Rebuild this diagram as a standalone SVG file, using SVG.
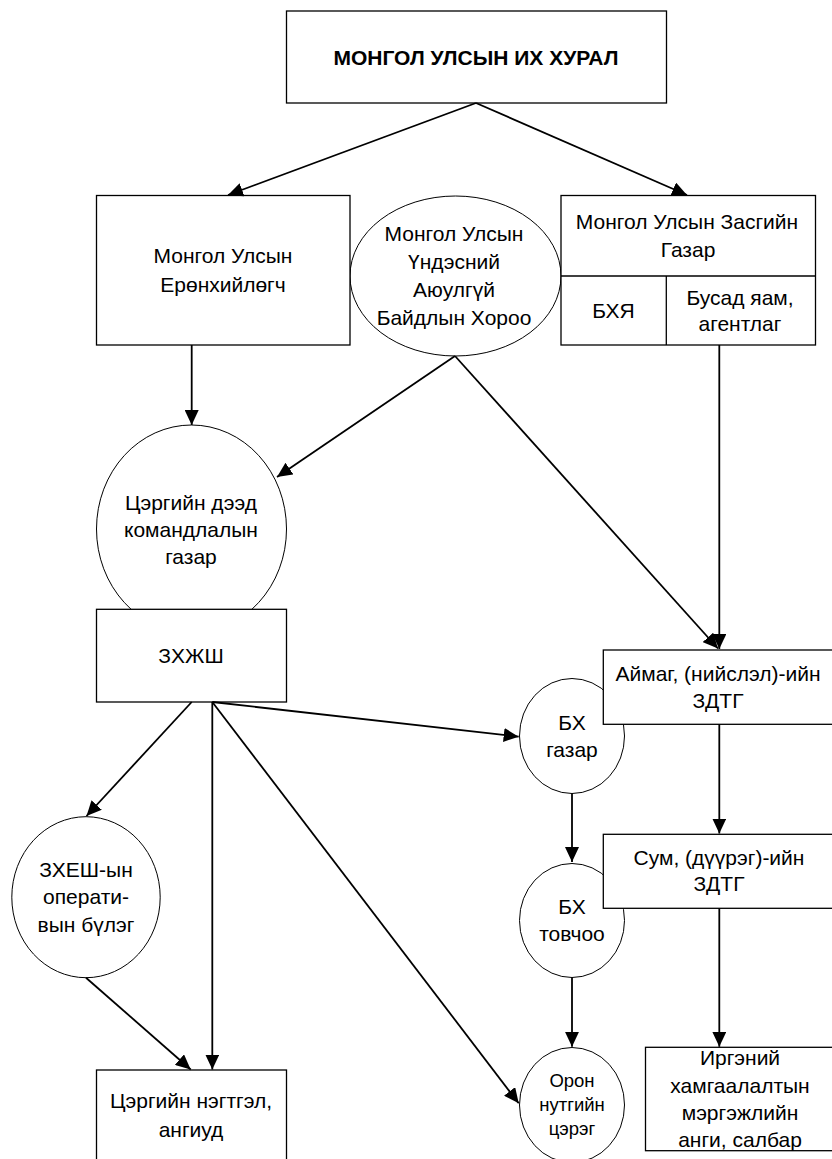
<svg xmlns="http://www.w3.org/2000/svg" width="832" height="1159" viewBox="0 0 832 1159">
<style>
text{font-family:"Liberation Sans",Arial,sans-serif;font-size:21px;fill:#000;text-anchor:middle}
.t{font-weight:bold}
.s{font-size:18.5px}
.box{fill:#fff;stroke:#000;stroke-width:1.3}
.ell{fill:#fff;stroke:#000;stroke-width:1}
.c{fill:none;stroke:#000;stroke-width:1.8;marker-end:url(#ah)}
.n{fill:none;stroke:#000;stroke-width:1.8}
</style>
<defs>
<marker id="ah" markerUnits="userSpaceOnUse" markerWidth="15" markerHeight="14" refX="15" refY="7" orient="auto">
<path d="M0,0 L15,7 L0,14 z" fill="#000"/>
</marker>
</defs>
<rect width="832" height="1159" fill="#fff"/>

<g id="nsc">
<ellipse class="ell" cx="455.5" cy="276" rx="105.5" ry="80"/>
<text x="454" y="240.5">Монгол Улсын</text>
<text x="454" y="268.5">Үндэсний</text>
<text x="454" y="296.5">Аюулгүй</text>
<text x="454" y="324.5">Байдлын Хороо</text>
</g>

<g id="cdkg">
<ellipse class="ell" cx="191.5" cy="529" rx="95" ry="104"/>
<text x="191" y="509.5">Цэргийн дээд</text>
<text x="191" y="536.5">командлалын</text>
<text x="191" y="563.5">газар</text>
</g>

<g id="bx-gazar">
<ellipse class="ell" cx="572" cy="736" rx="52.5" ry="57.5"/>
<text x="572" y="730">БХ</text>
<text x="572" y="756.5">газар</text>
</g>

<g id="bx-tovchoo">
<ellipse class="ell" cx="572" cy="920.5" rx="52.5" ry="57"/>
<text x="572" y="913.5">БХ</text>
<text x="572" y="940.5">товчоо</text>
</g>

<g id="oron">
<ellipse class="ell" cx="572" cy="1105" rx="52.5" ry="57.5"/>
<text class="s" x="572" y="1087">Орон</text>
<text class="s" x="572" y="1110.5">нутгийн</text>
<text class="s" x="572" y="1135">цэрэг</text>
</g>

<g id="zkhesh">
<ellipse class="ell" cx="86" cy="897.2" rx="74.2" ry="80.5"/>
<text x="86" y="876.7">ЗХЕШ-ын</text>
<text x="86" y="904">операти-</text>
<text x="86" y="931.5">вын бүлэг</text>
</g>

<g id="parliament">
<rect class="box" x="286.5" y="11" width="380" height="92"/>
<text class="t" x="476" y="65">МОНГОЛ УЛСЫН ИХ ХУРАЛ</text>
</g>

<g id="president">
<rect class="box" x="96.5" y="195.5" width="253.5" height="149.5"/>
<text x="223" y="263.3">Монгол Улсын</text>
<text x="223" y="291.5">Ерөнхийлөгч</text>
</g>

<g id="government">
<rect class="box" x="561" y="195.5" width="254.5" height="149.5"/>
<line x1="561" y1="276" x2="815.5" y2="276" stroke="#000" stroke-width="1.3"/>
<line x1="666.3" y1="276" x2="666.3" y2="345" stroke="#000" stroke-width="1.3"/>
<text x="687" y="229">Монгол Улсын Засгийн</text>
<text x="688" y="256.5">Газар</text>
<text x="613.5" y="318">БХЯ</text>
<text x="740" y="305">Бусад яам,</text>
<text x="740" y="331">агентлаг</text>
</g>

<g id="zkhzhsh">
<rect class="box" x="96.5" y="609.3" width="190" height="92.7"/>
<text x="191" y="663.3">ЗХЖШ</text>
</g>

<g id="aimag">
<rect class="box" x="603.3" y="650" width="235" height="74.3"/>
<text x="718" y="681">Аймаг, (нийслэл)-ийн</text>
<text x="718" y="707.5">ЗДТГ</text>
</g>

<g id="sum">
<rect class="box" x="603.3" y="834.3" width="235" height="74"/>
<text x="719" y="865">Сум, (дүүрэг)-ийн</text>
<text x="719" y="891">ЗДТГ</text>
</g>

<g id="units">
<rect class="box" x="96.5" y="1070" width="190" height="110"/>
<text x="191" y="1108.3">Цэргийн нэгтгэл,</text>
<text x="191" y="1136.7">ангиуд</text>
</g>

<g id="civil">
<rect class="box" x="645.5" y="1047.3" width="193" height="103.4"/>
<text x="740" y="1065">Иргэний</text>
<text x="740" y="1093.3">хамгаалалтын</text>
<text x="740" y="1120">мэргэжлийн</text>
<text x="740" y="1146.7">анги, салбар</text>
</g>

<g id="connectors">
<line class="c" x1="476" y1="103" x2="228" y2="195"/>
<line class="c" x1="476" y1="103" x2="687" y2="195"/>
<line class="c" x1="191.7" y1="345" x2="191.7" y2="425"/>
<line class="c" x1="455" y1="356" x2="277" y2="477"/>
<line class="c" x1="455" y1="356" x2="718" y2="648.5"/>
<line class="c" x1="719.3" y1="345" x2="719.3" y2="649"/>
<line class="c" x1="719.3" y1="724.3" x2="719.3" y2="833.5"/>
<line class="c" x1="719.3" y1="908.3" x2="719.3" y2="1046.8"/>
<line class="c" x1="572" y1="793.5" x2="572" y2="862"/>
<line class="c" x1="572" y1="977.5" x2="572" y2="1046.8"/>
<line class="c" x1="212.3" y1="702" x2="518.7" y2="736.7"/>
<line class="c" x1="212.3" y1="702" x2="518.7" y2="1103.3"/>
<line class="c" x1="212.3" y1="702" x2="212.3" y2="1069.5"/>
<line class="c" x1="191.7" y1="702" x2="86.5" y2="816"/>
<line class="c" x1="86" y1="977.7" x2="190.7" y2="1069.5"/>
</g>
</svg>
